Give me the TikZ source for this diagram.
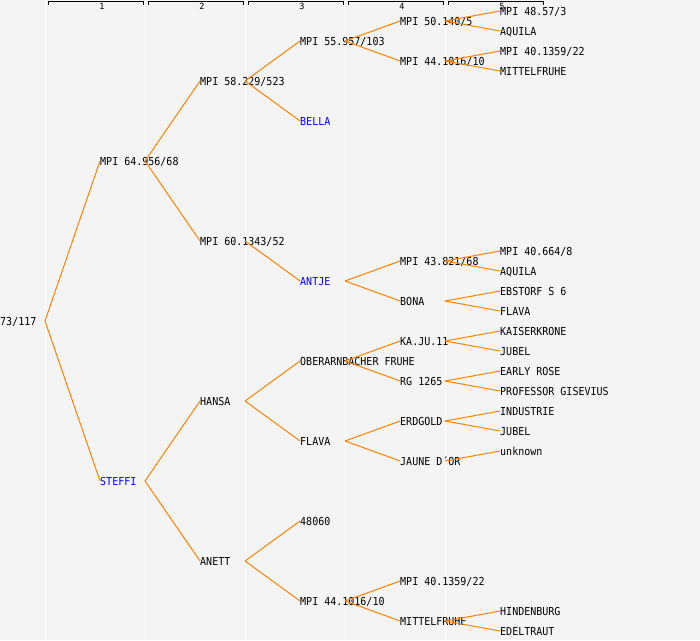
\documentclass[tikz,border=0pt]{standalone}
\usepackage{fontspec}
\setmonofont{DejaVu Sans Mono}
\newfontfamily\pedfont[FakeStretch=0.91]{DejaVu Sans Mono}
\usetikzlibrary{positioning}
\definecolor{pedbg}{HTML}{F4F4F4}
\definecolor{pedline}{HTML}{FF8000}
\definecolor{pedblue}{HTML}{0000FF}

\begin{document}
\begin{tikzpicture}[x=1pt,y=-1pt,
  lbl/.style={anchor=west,inner sep=0pt,text height=9pt,text depth=0pt,
    font=\pedfont\fontsize{11}{11}\selectfont},
  variety/.style={lbl,text=pedblue},
  link/.style={pedline,line width=1pt},
  colhead/.style={inner sep=0pt,font=\ttfamily\fontsize{8.5}{8.5}\selectfont}]
    % background and page size
    \fill[pedbg] (0,0) rectangle (700,640);
    \useasboundingbox (0,0) rectangle (700,640);
    % column separators and generation brackets
    \foreach \k in {0,...,4}
        \draw[white,line width=1pt] ({100*\k+45},0) -- ({100*\k+45},640);
    \foreach \k in {1,...,5} {
        \draw[line width=1pt] ({100*\k-52},4.5) |- ({100*\k+43},1.5) -- ({100*\k+43},4.5);
        \node[colhead] (h\k) at ({100*\k+2},6.3) {\k};
    }
    % generation 0 and 1
    \node[lbl] (r) at (0,321) {73/117};
    \node[lbl] (r0) at (100,161) {MPI 64.956/68};
    \node[variety] (r1) at (100,481) {STEFFI};
    % generation 2
    \node[lbl] (r00) at (200,81) {MPI 58.229/523};
    \node[lbl] (r01) at (200,241) {MPI 60.1343/52};
    \node[lbl] (r10) at (200,401) {HANSA};
    \node[lbl] (r11) at (200,561) {ANETT};
    % generation 3
    \node[lbl] (r000) at (300,41) {MPI 55.957/103};
    \node[variety] (r001) at (300,121) {BELLA};
    \node[variety] (r010) at (300,281) {ANTJE};
    \node[lbl] (r100) at (300,361) {OBERARNBACHER FRUHE};
    \node[lbl] (r101) at (300,441) {FLAVA};
    \node[lbl] (r110) at (300,521) {48060};
    \node[lbl] (r111) at (300,601) {MPI 44.1016/10};
    % generation 4
    \node[lbl] (r0000) at (400,21) {MPI 50.140/5};
    \node[lbl] (r0001) at (400,61) {MPI 44.1016/10};
    \node[lbl] (r0100) at (400,261) {MPI 43.821/68};
    \node[lbl] (r0101) at (400,301) {BONA};
    \node[lbl] (r1000) at (400,341) {KA.JU.11};
    \node[lbl] (r1001) at (400,381) {RG 1265};
    \node[lbl] (r1010) at (400,421) {ERDGOLD};
    \node[lbl] (r1011) at (400,461) {JAUNE D´OR};
    \node[lbl] (r1110) at (400,581) {MPI 40.1359/22};
    \node[lbl] (r1111) at (400,621) {MITTELFRUHE};
    % generation 5
    \node[lbl] (r00000) at (500,11) {MPI 48.57/3};
    \node[lbl] (r00001) at (500,31) {AQUILA};
    \node[lbl] (r00010) at (500,51) {MPI 40.1359/22};
    \node[lbl] (r00011) at (500,71) {MITTELFRUHE};
    \node[lbl] (r01000) at (500,251) {MPI 40.664/8};
    \node[lbl] (r01001) at (500,271) {AQUILA};
    \node[lbl] (r01010) at (500,291) {EBSTORF S 6};
    \node[lbl] (r01011) at (500,311) {FLAVA};
    \node[lbl] (r10000) at (500,331) {KAISERKRONE};
    \node[lbl] (r10001) at (500,351) {JUBEL};
    \node[lbl] (r10010) at (500,371) {EARLY ROSE};
    \node[lbl] (r10011) at (500,391) {PROFESSOR GISEVIUS};
    \node[lbl] (r10100) at (500,411) {INDUSTRIE};
    \node[lbl] (r10101) at (500,431) {JUBEL};
    \node[lbl] (r10110) at (500,451) {unknown};
    \node[lbl] (r11110) at (500,611) {HINDENBURG};
    \node[lbl] (r11111) at (500,631) {EDELTRAUT};
    % parent links: from the column line of the child to the parent's label
    \foreach \c/\p in {r/r0, r/r1, r0/r00, r0/r01, r1/r10, r1/r11,
        r00/r000, r00/r001, r01/r010, r10/r100, r10/r101, r11/r110, r11/r111,
        r000/r0000, r000/r0001, r010/r0100, r010/r0101, r100/r1000, r100/r1001,
        r101/r1010, r101/r1011, r111/r1110, r111/r1111,
        r0000/r00000, r0000/r00001, r0001/r00010, r0001/r00011,
        r0100/r01000, r0100/r01001, r0101/r01010, r0101/r01011,
        r1000/r10000, r1000/r10001, r1001/r10010, r1001/r10011,
        r1010/r10100, r1010/r10101, r1011/r10110,
        r1111/r11110, r1111/r11111}
        \draw[link] ([xshift=45pt]\c.west) -- (\p.west);
\end{tikzpicture}
\end{document}
